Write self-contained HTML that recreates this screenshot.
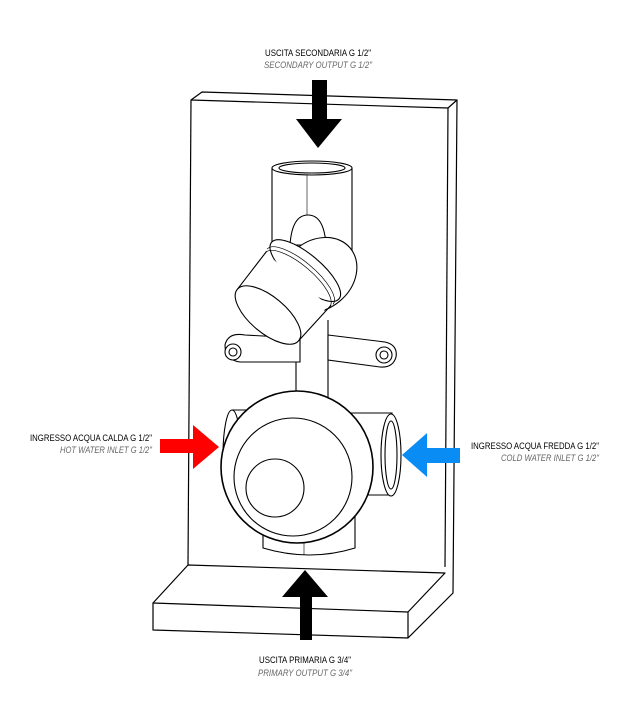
<!DOCTYPE html>
<html><head><meta charset="utf-8"><style>
html,body{margin:0;padding:0;background:#fff;}
svg{display:block;}
text{font-family:"Liberation Sans",sans-serif;font-size:9px;}
.i{font-style:italic;fill:#666;}
</style></head><body>
<svg width="621" height="724" viewBox="0 0 621 724" xmlns="http://www.w3.org/2000/svg">
<g fill="none" stroke="#000" stroke-width="1.2" stroke-linejoin="round">
<path d="M191,100 L202,92 L457,100 L448,108 Z" fill="#fff"/>
<path d="M191,100 L188,565"/>
<path d="M448,108 L445,567"/>
<path d="M188,565 L153,603 L408,612 L445,573 Z" fill="#fff"/>
<path d="M457,100 L453,593 L408,638 L153,630 L153,603"/>
<path d="M408,612 L408,638"/>
</g>
<g fill="#fff" stroke="#000" stroke-width="1.1">
<path d="M272,168 L272,250 L352,250 L352,168"/>
<ellipse cx="312" cy="168" rx="40" ry="7"/>
<ellipse cx="312" cy="168" rx="33" ry="5"/>
<line x1="307" y1="175" x2="307" y2="250" stroke-width="0.6"/>
<path d="M290,245 Q292,215 308,215 Q324,215 326,245 Z"/>
<path d="M296,320 L296,400 L328,400 L328,320"/>
<path d="M225,345 Q228,332 245,335 L300,338 L300,362 L240,362 Q225,360 225,345 Z"/>
<circle cx="233" cy="352" r="8"/><circle cx="233" cy="352" r="4"/>
<path d="M328,335 L385,342 Q398,345 396,357 Q393,368 380,367 L328,360 Z"/>
<circle cx="384" cy="355" r="8"/><circle cx="384" cy="355" r="4"/>
<ellipse cx="318" cy="275" rx="42" ry="34" transform="rotate(-40 318 275)"/>
<g transform="translate(268,315) rotate(-50)">
<ellipse cx="58" cy="0" rx="16" ry="44"/>
<path d="M46,-42 A15,42 0 0 1 46,42" fill="none" stroke-width="0.7"/>
<path d="M50,-43 A15,43 0 0 1 50,43" fill="none" stroke-width="0.7"/>
<rect x="0" y="-40" width="46" height="80" stroke="none"/>
<line x1="0" y1="-40" x2="48" y2="-42"/>
<line x1="0" y1="40" x2="48" y2="42"/>
<ellipse cx="0" cy="0" rx="18" ry="40"/>
</g>
<path d="M263,505 L263,548 Q310,562 355,548 L355,505"/>
<line x1="304" y1="520" x2="304" y2="555" stroke-width="0.6"/>
<path d="M232,410 L330,410 L330,500 L232,500"/>
<ellipse cx="232" cy="455" rx="9" ry="45"/>
<path d="M320,413 L392,413 L392,495 L320,495"/>
<ellipse cx="391" cy="455" rx="10" ry="41"/>
<ellipse cx="391" cy="455" rx="6" ry="34"/>
<circle cx="297" cy="467" r="76" stroke-width="1.6"/>
<circle cx="293" cy="477" r="59"/>
<circle cx="275" cy="488" r="29"/>
</g>
<path d="M312,80 L327,80 L327,119 L342,119 L318,148 L296,119 L312,119 Z" fill="#000"/>
<path d="M300,640 L312,640 L312,597 L328,597 L305,570 L282,597 L300,597 Z" fill="#000"/>
<path d="M160,439 L193,439 L193,425 L219,447 L193,469 L193,453 L160,453 Z" fill="#f00"/>
<path d="M460,448 L427,448 L427,433 L402,455 L427,477 L427,463 L460,463 Z" fill="#0a8cf5"/>
<text x="318" y="56" text-anchor="middle" textLength="106" lengthAdjust="spacingAndGlyphs">USCITA SECONDARIA G 1/2"</text>
<text x="318" y="68" text-anchor="middle" class="i" textLength="108" lengthAdjust="spacingAndGlyphs">SECONDARY OUTPUT G 1/2"</text>
<text x="152" y="441" text-anchor="end" textLength="122" lengthAdjust="spacingAndGlyphs">INGRESSO ACQUA CALDA G 1/2"</text>
<text x="152" y="453" text-anchor="end" class="i" textLength="92" lengthAdjust="spacingAndGlyphs">HOT WATER INLET G 1/2"</text>
<text x="599" y="449" text-anchor="end" textLength="128" lengthAdjust="spacingAndGlyphs">INGRESSO ACQUA FREDDA G 1/2"</text>
<text x="599" y="461" text-anchor="end" class="i" textLength="98" lengthAdjust="spacingAndGlyphs">COLD WATER INLET G 1/2"</text>
<text x="305" y="663" text-anchor="middle" textLength="92" lengthAdjust="spacingAndGlyphs">USCITA PRIMARIA G 3/4"</text>
<text x="305" y="676" text-anchor="middle" class="i" textLength="94" lengthAdjust="spacingAndGlyphs">PRIMARY OUTPUT G 3/4"</text>
</svg>
</body></html>
